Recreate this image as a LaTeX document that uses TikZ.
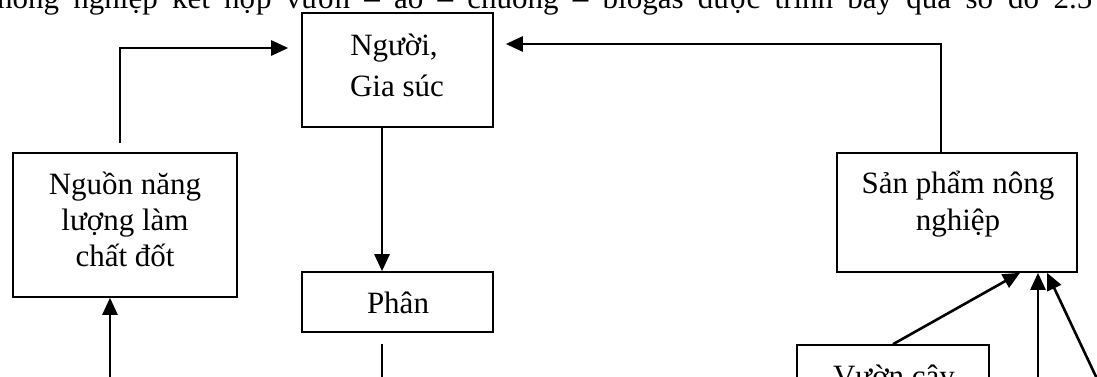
\documentclass[tikz,border=0pt]{standalone}
\usepackage{fontspec}
\setmainfont{Liberation Serif}
\usetikzlibrary{arrows.meta}
\begin{document}
\begin{tikzpicture}[x=1pt,y=-1pt,
  box/.style={draw,line width=1.6pt,inner sep=0pt},
  txt/.style={font=\fontsize{31}{36}\selectfont,inner sep=0pt,anchor=base},
  arr/.style={line width=2.6pt,-{Triangle[length=17pt,width=15pt]}},
  seg/.style={line width=2.6pt}]
\useasboundingbox (0,0) rectangle (1097,376);
\fill[white] (0,0) rectangle (1097,376);
\clip (0,0) rectangle (1097,376);
% top text (cut)
\node[txt,anchor=base west] (top) at (-3,8) {\makebox[1095pt][s]{nông nghiệp kết hợp vườn – ao – chuồng – biogas được trình bày qua sơ đồ 2.5}};
% boxes
\node[box,minimum width=191pt,minimum height=114pt] (nguoi) at (397.5,70) {};
\node[box,minimum width=191pt,minimum height=60pt] (phan) at (397.5,302) {};
\node[box,minimum width=224pt,minimum height=144pt] (nguon) at (125,225) {};
\node[box,minimum width=240pt,minimum height=119pt] (san) at (957,212.5) {};
\node[box,minimum width=192pt,minimum height=110pt] (vuon) at (893,400) {};
% texts
\node[txt] (nguoi1) at (394,55) {Người,};
\node[txt] (nguoi2) at (397,96) {Gia súc};
\node[txt] (phan1) at (398,313) {Phân};
\node[txt] (nguon1) at (125,194) {Nguồn năng};
\node[txt] (nguon2) at (125,230) {lượng làm};
\node[txt] (nguon3) at (125,266) {chất đốt};
\node[txt] (san1) at (958,193) {Sản phẩm nông};
\node[txt] (san2) at (958,230) {nghiệp};
\node[txt] (vuon1) at (894,386) {Vườn cây};
% free ends
\coordinate (c1) at (120,143);
\coordinate (p1) at (382,344);
\coordinate (p2) at (382,400);
\coordinate (q1) at (110,400);
\coordinate (r1) at (1038,400);
\coordinate (s1) at (1107,400);
% connectors
\draw[arr,shorten >=13pt] (c1) |- ([yshift=22pt]nguoi.west);
\draw[arr,shorten >=12pt] ([xshift=-16pt]san.north) |- ([yshift=26pt]nguoi.east);
\draw[arr] ([xshift=-15.5pt]nguoi.south) -- ([xshift=-15.5pt]phan.north);
\draw[seg] (p1) -- (p2);
\draw[arr] (q1) -- ([xshift=-15pt]nguon.south);
\draw[arr] (vuon.north) -- ([xshift=63pt]san.south);
\draw[arr] (r1) -- ([xshift=81pt]san.south);
\draw[arr] (s1) -- ([xshift=90pt]san.south);
\end{tikzpicture}
\end{document}
